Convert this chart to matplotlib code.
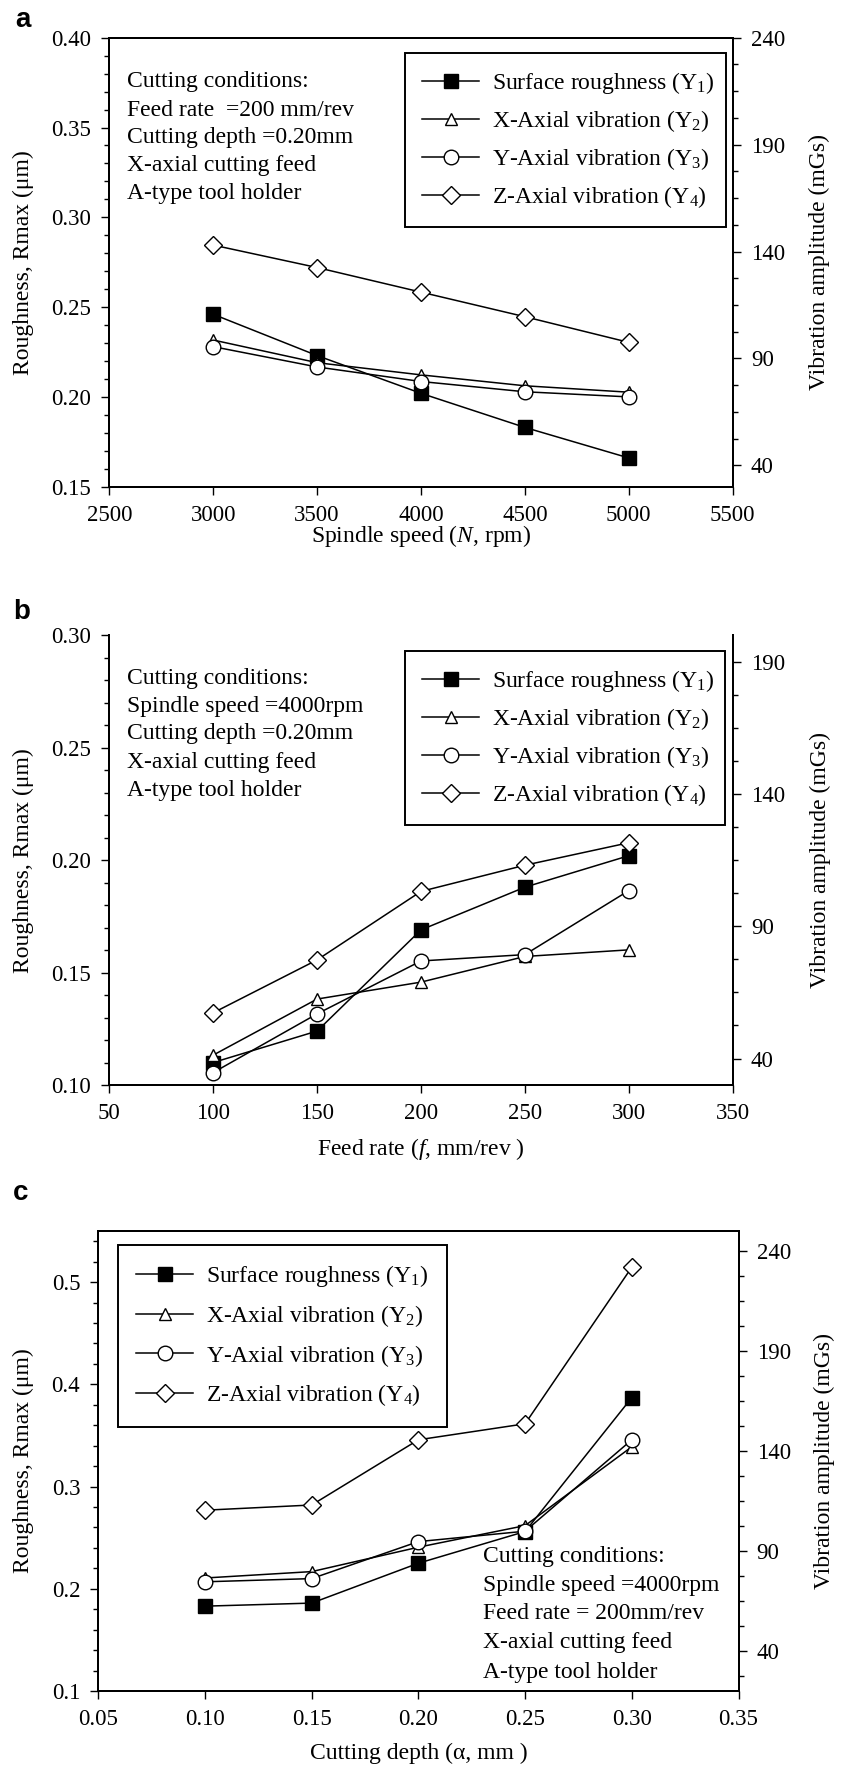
import matplotlib
matplotlib.use("Agg")
import matplotlib.pyplot as plt
from matplotlib.lines import Line2D
from matplotlib.ticker import MultipleLocator, FormatStrFormatter, FixedLocator

plt.rcParams['font.family'] = ['Liberation Serif', 'DejaVu Serif']
plt.rcParams['mathtext.fontset'] = 'custom'
plt.rcParams['mathtext.rm'] = 'Liberation Serif'
plt.rcParams['mathtext.it'] = 'Liberation Serif:italic'
plt.rcParams['mathtext.bf'] = 'Liberation Serif:bold'

# ---- data -------------------------------------------------------------
# (a) effect of spindle speed
speed = [3000, 3500, 4000, 4500, 5000]
a_rough = [0.246, 0.223, 0.202, 0.183, 0.166]
a_xvib = [98.6, 88.0, 82.3, 77.2, 74.2]
a_yvib = [95.5, 86.0, 79.2, 74.4, 72.0]
a_zvib = [143.0, 132.5, 121.0, 109.5, 97.5]

# (b) effect of feed rate
feed = [100, 150, 200, 250, 300]
b_rough = [0.110, 0.124, 0.169, 0.188, 0.202]
b_xvib = [41.3, 62.5, 68.9, 78.6, 81.1]
b_yvib = [34.7, 56.9, 76.9, 79.3, 103.5]
b_zvib = [57.3, 77.3, 103.2, 113.1, 121.6]

# (c) effect of cutting depth
depth = [0.10, 0.15, 0.20, 0.25, 0.30]
c_rough = [0.183, 0.186, 0.225, 0.256, 0.387]
c_xvib = [76.5, 79.7, 91.9, 102.7, 142.1]
c_yvib = [74.6, 76.2, 94.7, 99.9, 145.6]
c_zvib = [110.4, 113.0, 145.6, 153.6, 231.9]

# axis ticks
a_xticks = [2500, 3000, 3500, 4000, 4500, 5000, 5500]
b_xticks = [50, 100, 150, 200, 250, 300, 350]
c_xticks = [0.05, 0.10, 0.15, 0.20, 0.25, 0.30, 0.35]
a_lticks = [0.15, 0.20, 0.25, 0.30, 0.35, 0.40]
b_lticks = [0.10, 0.15, 0.20, 0.25, 0.30]
c_lticks = [0.1, 0.2, 0.3, 0.4, 0.5]
a_rticks = [40, 90, 140, 190, 240]
b_rticks = [40, 90, 140, 190]
c_rticks = [40, 90, 140, 190, 240]

labels = ['Surface roughness (Y$_1$)', 'X-Axial vibration (Y$_2$)',
          'Y-Axial vibration (Y$_3$)', 'Z-Axial vibration (Y$_4$)']

a_notes = ['Cutting conditions:', 'Feed rate  =200 mm/rev', 'Cutting depth =0.20mm',
           'X-axial cutting feed', 'A-type tool holder']
b_notes = ['Cutting conditions:', 'Spindle speed =4000rpm', 'Cutting depth =0.20mm',
           'X-axial cutting feed', 'A-type tool holder']
c_notes = ['Cutting conditions:', 'Spindle speed =4000rpm', 'Feed rate = 200mm/rev',
           'X-axial cutting feed', 'A-type tool holder']

# ---- styling ----------------------------------------------------------
W, H = 846, 1771
fig = plt.figure(figsize=(W / 100, H / 100), dpi=100)

STYLES = [
    dict(marker='s', ms=10.5, mfc='black', mec='black', mew=1.0),
    dict(marker='^', ms=9, mfc='white', mec='black', mew=1.0),
    dict(marker='o', ms=10.5, mfc='white', mec='black', mew=1.0),
    dict(marker='D', ms=9.5, mfc='white', mec='black', mew=1.0),
]
LW = 1.1
TICK_FS = 16.5
TEXT_FS = 17


def px_box(x0, y0, x1, y1):
    return [x0 / W, 1 - y1 / H, (x1 - x0) / W, (y1 - y0) / H]


def style_ticks(ax):
    ax.tick_params(axis='both', which='major', direction='out', length=5.5,
                   width=1.0, pad=7.5, labelsize=TICK_FS)
    ax.tick_params(axis='both', which='minor', direction='out', length=3.5,
                   width=1.0)
    for s in ax.spines.values():
        s.set_linewidth(1.4)


def panel(box, x, rough, xv, yv, zv, xticks, xfmt, xlim, lticks, lfmt, llim,
          lminor, rticks, rlim, xlabel, letter, letter_px, legend_px,
          legend_w, notes, notes_x, notes_y, top_spine=True,
          xlabel_y=0, ylabel_lx=23, ylabel_rx=820, lspace=0.51, bpad=0.73):
    x0, y0, x1, y1 = box
    ax = fig.add_axes(px_box(*box))
    ax2 = ax.twinx()

    ax.plot(x, rough, color='black', lw=LW, zorder=3, **STYLES[0])
    for vals, st in zip([xv, yv, zv], STYLES[1:]):
        ax2.plot(x, vals, color='black', lw=LW, zorder=3, **st)

    ax.set_xlim(*xlim)
    ax.set_xticks(xticks)
    ax.xaxis.set_major_formatter(FormatStrFormatter(xfmt))
    ax.set_ylim(*llim)
    ax.yaxis.set_major_locator(FixedLocator(lticks))
    ax.yaxis.set_minor_locator(MultipleLocator(lminor))
    ax.yaxis.set_major_formatter(FormatStrFormatter(lfmt))
    ax2.set_ylim(*rlim)
    ax2.yaxis.set_major_locator(FixedLocator(rticks))
    ax2.yaxis.set_minor_locator(MultipleLocator(12.5, offset=rticks[0]))
    style_ticks(ax)
    style_ticks(ax2)

    if not top_spine:
        ax.spines['top'].set_visible(False)
        ax2.spines['top'].set_visible(False)

    aw, ah = x1 - x0, y1 - y0
    ax.set_xlabel(xlabel, fontsize=TEXT_FS)
    ax.xaxis.label.set_verticalalignment('center')
    ax.xaxis.set_label_coords(0.5, -(xlabel_y - y1) / ah)

    ax.set_ylabel('Roughness, Rmax (\u03bcm)', fontsize=TEXT_FS)
    ax.yaxis.label.set_verticalalignment('center')
    ax.yaxis.set_label_coords((ylabel_lx - x0) / aw, 0.5)
    ax2.set_ylabel('Vibration amplitude (mGs)', fontsize=TEXT_FS)
    ax2.yaxis.label.set_verticalalignment('center')
    ax2.yaxis.set_label_coords((ylabel_rx - x0) / aw, 0.5)

    handles = [Line2D([], [], color='black', lw=LW, **st) for st in STYLES]
    lx, ly = legend_px
    leg = ax2.legend(handles, labels, loc='upper left',
                     bbox_to_anchor=(lx / W, 1 - ly / H, legend_w / W, 0),
                     bbox_transform=fig.transFigure, mode='expand',
                     frameon=True, fancybox=False, framealpha=1,
                     edgecolor='black', fontsize=TEXT_FS, handlelength=2.4,
                     handletextpad=0.55, borderpad=bpad, labelspacing=lspace,
                     borderaxespad=0)
    leg.get_frame().set_linewidth(1.4)

    for s, ny in zip(notes, notes_y):
        fig.text(notes_x / W, 1 - ny / H, s, fontsize=TEXT_FS,
                 ha='left', va='center')

    fig.text(letter_px[0] / W, 1 - letter_px[1] / H, letter,
             family='Liberation Sans', fontweight='bold', fontsize=20,
             ha='left', va='baseline')
    return ax, ax2


panel((109.3, 37.7, 732.7, 486.7), speed, a_rough, a_xvib, a_yvib, a_zvib,
      a_xticks, '%d', (2500, 5500), a_lticks, '%.2f', (0.15, 0.40), 0.01,
      a_rticks, (30, 240), 'Spindle speed ($N$, rpm)', 'a', (15, 26.7),
      (405, 53), 321, a_notes, 127, [82, 110, 137.5, 165, 193.6],
      xlabel_y=536, ylabel_rx=819)

panel((109.3, 635.4, 732.7, 1085), feed, b_rough, b_xvib, b_yvib, b_zvib,
      b_xticks, '%d', (50, 350), b_lticks, '%.2f', (0.10, 0.30), 0.01,
      b_rticks, (30, 200), 'Feed rate ($f$, mm/rev )', 'b', (13, 619),
      (405, 651), 320, b_notes, 127, [678.7, 706.8, 734, 762.4, 790.8],
      top_spine=False, xlabel_y=1148.6, ylabel_rx=820)

panel((98.3, 1231, 738.5, 1691), depth, c_rough, c_xvib, c_yvib, c_zvib,
      c_xticks, '%.2f', (0.05, 0.35), c_lticks, '%.1f', (0.1, 0.55), 0.02,
      c_rticks, (20, 250), 'Cutting depth (\u03b1, mm )', 'c', (13, 1200),
      (118, 1245), 329, c_notes, 483,
      [1556.4, 1585.8, 1613.9, 1642.8, 1672.1],
      xlabel_y=1753, ylabel_rx=824.6, lspace=0.58, bpad=0.78)

fig.savefig('out.png', dpi=100)
